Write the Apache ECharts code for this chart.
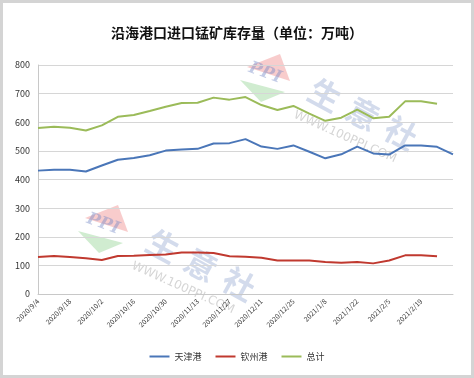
<!DOCTYPE html>
<html>
<head>
<meta charset="utf-8">
<script src="https://cdn.jsdelivr.net/npm/echarts@6/dist/echarts.min.js"></script>
<style>
    html, body { margin: 0; padding: 0; background: #fff; }
    #chart { width: 474px; height: 378px; box-sizing: border-box; border: 3px solid #d4d4d4; }
</style>
</head>
<body>
<div id="chart"></div>
<script>
// weekly dates, 2020/9/4 .. 2021/3/5
var dates = ['2020/9/4','2020/9/11','2020/9/18','2020/9/25','2020/10/2','2020/10/9','2020/10/16','2020/10/23',
    '2020/10/30','2020/11/6','2020/11/13','2020/11/20','2020/11/27','2020/12/4','2020/12/11','2020/12/18',
    '2020/12/25','2021/1/1','2021/1/8','2021/1/15','2021/1/22','2021/1/29','2021/2/5','2021/2/12',
    '2021/2/19','2021/2/26','2021/3/5'];

var tianjin = [431,434,434,428,449,469,475,485,501,505,507,526,527,541,515,507,519,497,474,488,515,491,487,519,519,514,488];
var qinzhou = [129,133,129,125,119,133,134,136,138,145,145,143,132,130,127,117,117,117,112,109,112,107,117,135,135,132];
var total   = [580,584,581,571,589,619,625,639,654,667,668,686,679,688,660,643,657,630,605,616,644,614,619,673,673,665];

var names = ['天津港', '钦州港', '总计'],
    colors = ['#4a76b8', '#c0392f', '#9bbb59'];

var chart = echarts.init(document.getElementById('chart'));

var series = [tianjin, qinzhou, total].map(function (data, idx) {
    return {
        name: names[idx],
        type: 'line',
        data: data,
        symbol: 'none',
        lineStyle: { width: 2, color: colors[idx] },
        itemStyle: { color: colors[idx] }
    };
});

var font = 'Noto Sans CJK SC, Noto Sans, sans-serif';

// watermark (logo + 生意社), drawn faint behind the lines
function watermark(x, y) {
    var chars = ['生', '意', '社'], out = [];
    out.push({ type: 'polygon', silent: true, z: -2,
        shape: { points: [[x - 78, y - 28], [x - 45, y - 41], [x - 35, y - 14]] },
        style: { fill: 'rgba(235,110,110,0.35)' } });
    out.push({ type: 'polygon', silent: true, z: -2,
        shape: { points: [[x - 85, y - 15], [x - 40, y - 3], [x - 64, y + 7]] },
        style: { fill: 'rgba(120,200,120,0.35)' } });
    out.push({ type: 'text', silent: true, z: -1, x: x - 60, y: y - 22, rotation: -0.35,
        style: { text: 'PPI', fontSize: 17, fontWeight: 'bold', fontStyle: 'italic', fontFamily: 'DejaVu Serif',
                 fill: 'rgba(120,140,200,0.45)', align: 'center', verticalAlign: 'middle' } });
    chars.forEach(function (c, i) {
        out.push({ type: 'text', silent: true, z: -1, x: x + i * 38, y: y + i * 19, rotation: -0.5,
            style: { text: c, fontSize: 32, fontWeight: 'bold', fontFamily: font,
                     fill: 'rgba(140,160,205,0.38)', align: 'center', verticalAlign: 'middle' } });
    });
    out.push({ type: 'text', silent: true, z: -1, x: x + 20, y: y + 42, rotation: -0.42,
        style: { text: 'WWW.100PPI.COM', fontSize: 12, fontFamily: 'DejaVu Sans',
                 fill: 'rgba(150,150,150,0.4)', align: 'center', verticalAlign: 'middle' } });
    return out;
}

chart.setOption({
    animation: false,
    textStyle: { fontFamily: font },
    title: {
        text: '沿海港口进口锰矿库存量（单位：万吨）',
        left: 'center',
        top: 18,
        textStyle: { fontSize: 14, fontWeight: 'bold', color: '#111', fontFamily: font }
    },
    legend: {
        data: names,
        bottom: 9,
        left: 'center',
        itemWidth: 20,
        itemHeight: 2,
        itemGap: 14,
        icon: 'rect',
        textStyle: { fontSize: 9, color: '#333' }
    },
    grid: { left: 35, right: 18, top: 62, bottom: 81 },
    xAxis: {
        type: 'category',
        boundaryGap: false,
        data: dates,
        axisLine: { lineStyle: { color: '#c8c8c8' } },
        axisTick: { show: false },
        axisLabel: {
            interval: function (idx) { return idx % 2 === 0 && idx < 26; },
            rotate: 45, fontSize: 7, color: '#333', margin: 6
        }
    },
    yAxis: {
        type: 'value',
        min: 0,
        max: 800,
        interval: 100,
        axisLine: { show: true, lineStyle: { color: '#c8c8c8' } },
        axisTick: { show: false },
        axisLabel: { fontSize: 9, color: '#333', margin: 8 },
        splitLine: { lineStyle: { color: '#d6d6d6' } }
    },
    graphic: watermark(322, 92).concat(watermark(160, 243)),
    series: series
});
</script>
</body>
</html>
